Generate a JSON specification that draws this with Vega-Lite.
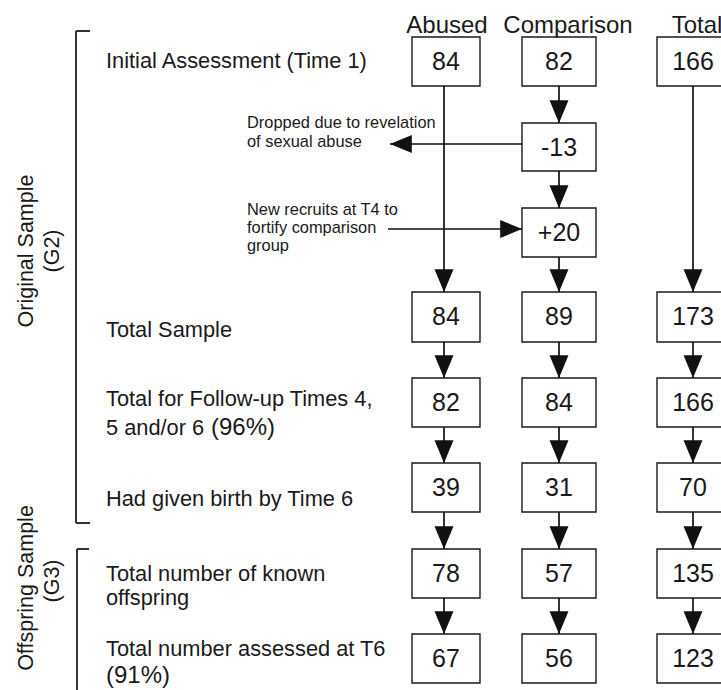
{
  "$schema": "https://vega.github.io/schema/vega-lite/v6.json",
  "width": 721,
  "height": 690,
  "padding": 0,
  "autosize": {"type": "none"},
  "background": "white",
  "config": {"view": {"stroke": null}, "text": {"font": "Liberation Sans", "color": "#1a1a1a"}},
  "datasets": {
    "boxes": [
      {"group": "Abused", "stage": "Initial Assessment", "n": "84", "x1": 412, "x2": 480, "cx": 446, "y1": 37, "y2": 86},
      {"group": "Abused", "stage": "Total Sample", "n": "84", "x1": 412, "x2": 480, "cx": 446, "y1": 292, "y2": 342},
      {"group": "Abused", "stage": "Follow-up", "n": "82", "x1": 412, "x2": 480, "cx": 446, "y1": 378, "y2": 427},
      {"group": "Abused", "stage": "Gave birth", "n": "39", "x1": 412, "x2": 480, "cx": 446, "y1": 463, "y2": 512},
      {"group": "Abused", "stage": "Known offspring", "n": "78", "x1": 412, "x2": 480, "cx": 446, "y1": 549, "y2": 598},
      {"group": "Abused", "stage": "Assessed T6", "n": "67", "x1": 412, "x2": 480, "cx": 446, "y1": 634, "y2": 683},
      {"group": "Comparison", "stage": "Initial Assessment", "n": "82", "x1": 522, "x2": 596, "cx": 559, "y1": 37, "y2": 86},
      {"group": "Comparison", "stage": "Dropped", "n": "-13", "x1": 522, "x2": 596, "cx": 559, "y1": 123, "y2": 171},
      {"group": "Comparison", "stage": "New recruits", "n": "+20", "x1": 522, "x2": 596, "cx": 559, "y1": 208, "y2": 257},
      {"group": "Comparison", "stage": "Total Sample", "n": "89", "x1": 522, "x2": 596, "cx": 559, "y1": 292, "y2": 342},
      {"group": "Comparison", "stage": "Follow-up", "n": "84", "x1": 522, "x2": 596, "cx": 559, "y1": 378, "y2": 427},
      {"group": "Comparison", "stage": "Gave birth", "n": "31", "x1": 522, "x2": 596, "cx": 559, "y1": 463, "y2": 512},
      {"group": "Comparison", "stage": "Known offspring", "n": "57", "x1": 522, "x2": 596, "cx": 559, "y1": 549, "y2": 598},
      {"group": "Comparison", "stage": "Assessed T6", "n": "56", "x1": 522, "x2": 596, "cx": 559, "y1": 634, "y2": 683},
      {"group": "Total", "stage": "Initial Assessment", "n": "166", "x1": 657, "x2": 729, "cx": 693, "y1": 37, "y2": 86},
      {"group": "Total", "stage": "Total Sample", "n": "173", "x1": 657, "x2": 729, "cx": 693, "y1": 292, "y2": 342},
      {"group": "Total", "stage": "Follow-up", "n": "166", "x1": 657, "x2": 729, "cx": 693, "y1": 378, "y2": 427},
      {"group": "Total", "stage": "Gave birth", "n": "70", "x1": 657, "x2": 729, "cx": 693, "y1": 463, "y2": 512},
      {"group": "Total", "stage": "Known offspring", "n": "135", "x1": 657, "x2": 729, "cx": 693, "y1": 549, "y2": 598},
      {"group": "Total", "stage": "Assessed T6", "n": "123", "x1": 657, "x2": 729, "cx": 693, "y1": 634, "y2": 683}
    ],
    "arrows": [
      {"x1": 444, "y1": 86, "x2": 444, "y2": 292, "dir": "down"},
      {"x1": 444, "y1": 342, "x2": 444, "y2": 378, "dir": "down"},
      {"x1": 444, "y1": 427, "x2": 444, "y2": 463, "dir": "down"},
      {"x1": 444, "y1": 512, "x2": 444, "y2": 549, "dir": "down"},
      {"x1": 444, "y1": 598, "x2": 444, "y2": 634, "dir": "down"},
      {"x1": 559, "y1": 86, "x2": 559, "y2": 123, "dir": "down"},
      {"x1": 559, "y1": 171, "x2": 559, "y2": 208, "dir": "down"},
      {"x1": 559, "y1": 257, "x2": 559, "y2": 292, "dir": "down"},
      {"x1": 559, "y1": 342, "x2": 559, "y2": 378, "dir": "down"},
      {"x1": 559, "y1": 427, "x2": 559, "y2": 463, "dir": "down"},
      {"x1": 559, "y1": 512, "x2": 559, "y2": 549, "dir": "down"},
      {"x1": 559, "y1": 598, "x2": 559, "y2": 634, "dir": "down"},
      {"x1": 693, "y1": 86, "x2": 693, "y2": 292, "dir": "down"},
      {"x1": 693, "y1": 342, "x2": 693, "y2": 378, "dir": "down"},
      {"x1": 693, "y1": 427, "x2": 693, "y2": 463, "dir": "down"},
      {"x1": 693, "y1": 512, "x2": 693, "y2": 549, "dir": "down"},
      {"x1": 693, "y1": 598, "x2": 693, "y2": 634, "dir": "down"},
      {"x1": 522, "y1": 144, "x2": 390, "y2": 144, "dir": "left"},
      {"x1": 388, "y1": 229, "x2": 522, "y2": 229, "dir": "right"}
    ],
    "brackets": [
      {"x1": 76, "y1": 31, "x2": 76, "y2": 523},
      {"x1": 76, "y1": 31, "x2": 90, "y2": 31},
      {"x1": 76, "y1": 523, "x2": 90, "y2": 523},
      {"x1": 77, "y1": 549, "x2": 77, "y2": 690},
      {"x1": 77, "y1": 549, "x2": 89, "y2": 549}
    ],
    "headers": [
      {"label": "Abused", "x": 447, "y": 33},
      {"label": "Comparison", "x": 568, "y": 33},
      {"label": "Total", "x": 697, "y": 33}
    ],
    "labels": [
      {"label": "Initial Assessment (Time 1)", "x": 106, "y": 68},
      {"label": "Total Sample", "x": 106, "y": 337},
      {"label": "Total for Follow-up Times 4,", "x": 106, "y": 406},
      {"label": "5 and/or 6", "x": 106, "y": 435},
      {"label": "Had given birth by Time 6", "x": 106, "y": 506},
      {"label": "Total number of known", "x": 106, "y": 581},
      {"label": "offspring", "x": 106, "y": 605},
      {"label": "Total number assessed at T6", "x": 106, "y": 656}
    ],
    "bigLabels": [
      {"label": "(96%)", "x": 211, "y": 435},
      {"label": "(91%)", "x": 106, "y": 683}
    ],
    "notes": [
      {"label": "Dropped due to revelation", "x": 247, "y": 128},
      {"label": "of sexual abuse", "x": 247, "y": 147},
      {"label": "New recruits at T4 to", "x": 247, "y": 215},
      {"label": "fortify comparison", "x": 247, "y": 233},
      {"label": "group", "x": 247, "y": 251}
    ],
    "sideLabels": [
      {"label": "Original Sample", "x": 27, "y": 251},
      {"label": "(G2)", "x": 53, "y": 251},
      {"label": "Offspring Sample", "x": 27, "y": 588},
      {"label": "(G3)", "x": 53, "y": 581}
    ]
  },
  "layer": [
    {
      "data": {"name": "brackets"},
      "mark": {"type": "rule", "stroke": "#333333", "strokeWidth": 2},
      "encoding": {
        "x": {"field": "x1", "type": "quantitative", "scale": {"domain": [0, 721], "nice": false, "zero": false}, "axis": null},
        "x2": {"field": "x2"},
        "y": {"field": "y1", "type": "quantitative", "scale": {"domain": [0, 690], "nice": false, "zero": false, "reverse": true}, "axis": null},
        "y2": {"field": "y2"}
      }
    },
    {
      "data": {"name": "arrows"},
      "mark": {"type": "rule", "stroke": "#111111", "strokeWidth": 1.7},
      "encoding": {
        "x": {"field": "x1", "type": "quantitative"},
        "x2": {"field": "x2"},
        "y": {"field": "y1", "type": "quantitative"},
        "y2": {"field": "y2"}
      }
    },
    {
      "data": {"name": "arrows"},
      "mark": {"type": "point", "filled": true, "size": 360, "opacity": 1, "color": "#111111", "strokeWidth": 0},
      "encoding": {
        "x": {"field": "x2", "type": "quantitative"},
        "y": {"field": "y2", "type": "quantitative"},
        "shape": {
          "field": "dir", "type": "nominal", "legend": null,
          "scale": {"domain": ["down", "left", "right"], "range": ["M-1,-2.4L1,-2.4L0,0Z", "M0,0L2.3,-0.95L2.3,0.95Z", "M0,0L-2.3,-0.95L-2.3,0.95Z"]}
        }
      }
    },
    {
      "data": {"name": "boxes"},
      "mark": {"type": "rect", "fill": "white", "stroke": "#1a1a1a", "strokeWidth": 1.4},
      "encoding": {
        "x": {"field": "x1", "type": "quantitative"},
        "x2": {"field": "x2"},
        "y": {"field": "y1", "type": "quantitative"},
        "y2": {"field": "y2"}
      }
    },
    {
      "data": {"name": "boxes"},
      "mark": {"type": "text", "fontSize": 25, "align": "center", "baseline": "alphabetic", "dy": 33},
      "encoding": {
        "x": {"field": "cx", "type": "quantitative"},
        "y": {"field": "y1", "type": "quantitative"},
        "text": {"field": "n"}
      }
    },
    {
      "data": {"name": "headers"},
      "mark": {"type": "text", "fontSize": 24, "align": "center", "baseline": "alphabetic"},
      "encoding": {
        "x": {"field": "x", "type": "quantitative"},
        "y": {"field": "y", "type": "quantitative"},
        "text": {"field": "label"}
      }
    },
    {
      "data": {"name": "labels"},
      "mark": {"type": "text", "fontSize": 21.8, "align": "left", "baseline": "alphabetic"},
      "encoding": {
        "x": {"field": "x", "type": "quantitative"},
        "y": {"field": "y", "type": "quantitative"},
        "text": {"field": "label"}
      }
    },
    {
      "data": {"name": "bigLabels"},
      "mark": {"type": "text", "fontSize": 24, "align": "left", "baseline": "alphabetic"},
      "encoding": {
        "x": {"field": "x", "type": "quantitative"},
        "y": {"field": "y", "type": "quantitative"},
        "text": {"field": "label"}
      }
    },
    {
      "data": {"name": "notes"},
      "mark": {"type": "text", "fontSize": 16.4, "align": "left", "baseline": "alphabetic"},
      "encoding": {
        "x": {"field": "x", "type": "quantitative"},
        "y": {"field": "y", "type": "quantitative"},
        "text": {"field": "label"}
      }
    },
    {
      "data": {"name": "sideLabels"},
      "mark": {"type": "text", "fontSize": 21.5, "align": "center", "baseline": "middle", "angle": 270},
      "encoding": {
        "x": {"field": "x", "type": "quantitative"},
        "y": {"field": "y", "type": "quantitative"},
        "text": {"field": "label"}
      }
    }
  ]
}
